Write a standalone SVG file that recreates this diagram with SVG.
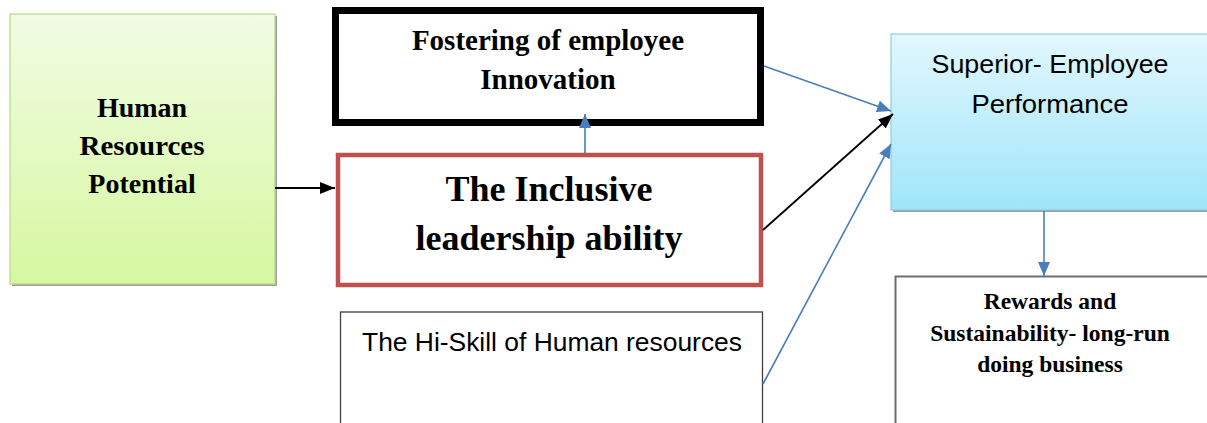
<svg xmlns="http://www.w3.org/2000/svg" width="1207" height="423" viewBox="0 0 1207 423">
<defs>
<linearGradient id="gGreen" x1="0" y1="0" x2="0" y2="1"><stop offset="0" stop-color="#f1fce4"/><stop offset="1" stop-color="#d6f7a0"/></linearGradient>
<linearGradient id="gBlue" x1="0" y1="0" x2="0" y2="1"><stop offset="0" stop-color="#e2f7fd"/><stop offset="1" stop-color="#9fe5fa"/></linearGradient>
<marker id="aBlue" markerWidth="14" markerHeight="12" refX="14" refY="6" orient="auto" markerUnits="userSpaceOnUse"><path d="M0,0 L14,6 L0,12 Z" fill="#4a7ebb"/></marker>
<marker id="aBlack" markerWidth="15" markerHeight="12" refX="15" refY="6" orient="auto" markerUnits="userSpaceOnUse"><path d="M0,0 L15,6 L0,12 Z" fill="#000"/></marker>
<style>
.serif{font-family:"Liberation Serif","Times New Roman",serif;font-weight:bold;fill:#000;text-anchor:middle}
.sans{font-family:"Liberation Sans",Arial,sans-serif;fill:#000;text-anchor:middle}
.cb{stroke:#4a7ebb;stroke-width:1.6;fill:none}
.ck{stroke:#000;stroke-width:1.8;fill:none}
</style>
</defs>
<rect width="1207" height="423" fill="#fff"/>

<g id="node-hr-potential">
<rect x="12" y="16" width="265" height="270" fill="#a0a0a0"/>
<rect x="10" y="14" width="265" height="270" fill="url(#gGreen)" stroke="#b7d98c" stroke-width="1.2"/>
<text class="serif" font-size="28"><tspan x="142" y="117">Human</tspan><tspan x="142" y="155" textLength="125" lengthAdjust="spacingAndGlyphs">Resources</tspan><tspan x="142" y="193">Potential</tspan></text>
</g>

<g id="node-fostering">
<rect x="335.5" y="10.5" width="425" height="112" fill="#fff" stroke="#000" stroke-width="7"/>
<text class="serif" font-size="29"><tspan x="548" y="50">Fostering of employee</tspan><tspan x="548" y="89">Innovation</tspan></text>
</g>

<g id="node-inclusive">
<rect x="338" y="155" width="423" height="130" fill="#fff" stroke="#c0504d" stroke-width="4.5"/>
<text class="serif" font-size="36"><tspan x="549" y="201">The Inclusive</tspan><tspan x="549" y="250">leadership ability</tspan></text>
</g>

<g id="node-hiskill">
<rect x="340.5" y="312" width="422" height="115" fill="#fff" stroke="#404040" stroke-width="1.3"/>
<text class="sans" font-size="26" x="552" y="351" textLength="380" lengthAdjust="spacingAndGlyphs">The Hi-Skill of Human resources</text>
</g>

<g id="node-superior">
<rect x="893" y="36" width="320" height="176" fill="#9a9a9a"/>
<rect x="891" y="34" width="320" height="176" fill="url(#gBlue)" stroke="#8ccfe0" stroke-width="1.2"/>
<text class="sans" font-size="26"><tspan x="1050" y="73" textLength="237" lengthAdjust="spacingAndGlyphs">Superior- Employee</tspan><tspan x="1050" y="113" textLength="157" lengthAdjust="spacingAndGlyphs">Performance</tspan></text>
</g>

<g id="node-rewards">
<rect x="895.5" y="276.5" width="315" height="150" fill="#fff" stroke="#6e6e6e" stroke-width="2"/>
<text class="serif" font-size="23.5"><tspan x="1050" y="309">Rewards and</tspan><tspan x="1050" y="341">Sustainability- long-run</tspan><tspan x="1050" y="372">doing business</tspan></text>
</g>

<g id="connectors">
<line class="ck" x1="275" y1="188" x2="335" y2="188" marker-end="url(#aBlack)"/>
<line class="cb" x1="585" y1="153" x2="585" y2="114" marker-end="url(#aBlue)"/>
<line class="cb" x1="764" y1="66" x2="891" y2="111" marker-end="url(#aBlue)"/>
<line class="ck" x1="763" y1="230" x2="893" y2="114" marker-end="url(#aBlack)"/>
<line class="cb" x1="763" y1="384" x2="891" y2="144" marker-end="url(#aBlue)"/>
<line class="cb" x1="1044" y1="211" x2="1044" y2="276" marker-end="url(#aBlue)"/>
</g>
</svg>
